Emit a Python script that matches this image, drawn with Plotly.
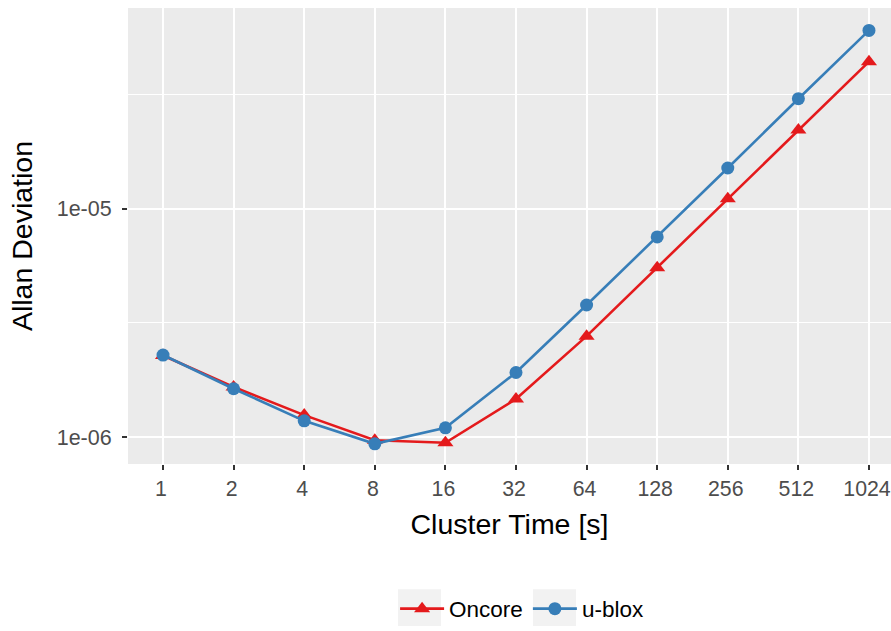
import plotly.graph_objects as go

cluster_time = [1, 2, 4, 8, 16, 32, 64, 128, 256, 512, 1024]
oncore = [2.28e-6, 1.66e-6, 1.25e-6, 9.70e-7, 9.46e-7, 1.47e-6, 2.77e-6, 5.52e-6, 1.105e-5, 2.21e-5, 4.40e-5]
ublox = [2.29e-6, 1.63e-6, 1.18e-6, 9.36e-7, 1.10e-6, 1.92e-6, 3.79e-6, 7.53e-6, 1.507e-5, 3.03e-5, 6.03e-5]
x_ticks = [1, 2, 4, 8, 16, 32, 64, 128, 256, 512, 1024]
x_ticktext = [str(v) for v in x_ticks]
y_ticks = [1e-6, 1e-5]
y_ticktext = ["1e-06", "1e-05"]
y_minor = [10 ** -5.5, 10 ** -4.5]

RED = "#E41A1C"
BLUE = "#377EB8"
FONT = "Liberation Sans, Arial, Helvetica, sans-serif"

fig = go.Figure()
fig.add_trace(go.Scatter(
    x=cluster_time, y=oncore, name="Oncore", mode="lines+markers",
    line=dict(color=RED, width=2.6),
    marker=dict(symbol="triangle-up", size=14, color=RED),
))
fig.add_trace(go.Scatter(
    x=cluster_time, y=ublox, name="u-blox", mode="lines+markers",
    line=dict(color=BLUE, width=2.6),
    marker=dict(symbol="circle", size=13, color=BLUE),
))

# legend key backgrounds (ggplot style), in paper coordinates
PW, PH, PL, PB = 763.0, 459.0, 128.0, 467.0
for x0, x1 in [(398, 441), (533, 576)]:
    fig.add_shape(type="rect", xref="paper", yref="paper",
                  x0=(x0 - PL) / PW, x1=(x1 - PL) / PW,
                  y0=(PB - 630) / PH, y1=(PB - 593) / PH,
                  fillcolor="#F2F2F2", line=dict(width=0), layer="below")

l2 = 0.30103
fig.update_layout(
    width=891, height=631,
    margin=dict(l=128, r=0, t=8, b=164),
    paper_bgcolor="white",
    plot_bgcolor="#EBEBEB",
    font=dict(family=FONT, size=22, color="black"),
    showlegend=True,
    legend=dict(
        orientation="h", x=0.5165, xanchor="center", y=-0.318, yanchor="middle",
        font=dict(family=FONT, size=22.5, color="black"),
        bgcolor="rgba(0,0,0,0)", itemwidth=44, tracegroupgap=0,
    ),
    xaxis=dict(
        type="log",
        range=[-0.496 * l2, 10.312 * l2],
        tickmode="array", tickvals=x_ticks, ticktext=x_ticktext,
        showgrid=True, gridcolor="white", gridwidth=2.4,
        zeroline=False, showline=False,
        ticks="outside", ticklen=5, tickwidth=2, tickcolor="#333333",
        tickfont=dict(family=FONT, size=21.3, color="#4D4D4D"),
        ticklabelshift=-2,
        ticklabeloverflow="allow",
        title=dict(text="Cluster Time [s]", font=dict(family=FONT, size=28.5, color="black"), standoff=14),
        automargin=False,
    ),
    yaxis=dict(
        type="log",
        range=[-6.117, -4.1217],
        tickmode="array", tickvals=y_ticks, ticktext=y_ticktext,
        showgrid=True, gridcolor="white", gridwidth=2.4,
        minor=dict(tickvals=y_minor, showgrid=True, gridcolor="white", gridwidth=1.2, ticks=""),
        zeroline=False, showline=False,
        ticks="outside", ticklen=5, tickwidth=2, tickcolor="#333333",
        tickfont=dict(family=FONT, size=21.5, color="#4D4D4D"),
        ticklabelstandoff=6,
        title=dict(text="Allan Deviation", font=dict(family=FONT, size=28.5, color="black"), standoff=15),
        automargin=False,
    ),
)

fig.write_html(
    "out.html",
    config={"displayModeBar": False},
    post_script="document.body.style.margin='0px';document.body.style.overflow='hidden';",
)
